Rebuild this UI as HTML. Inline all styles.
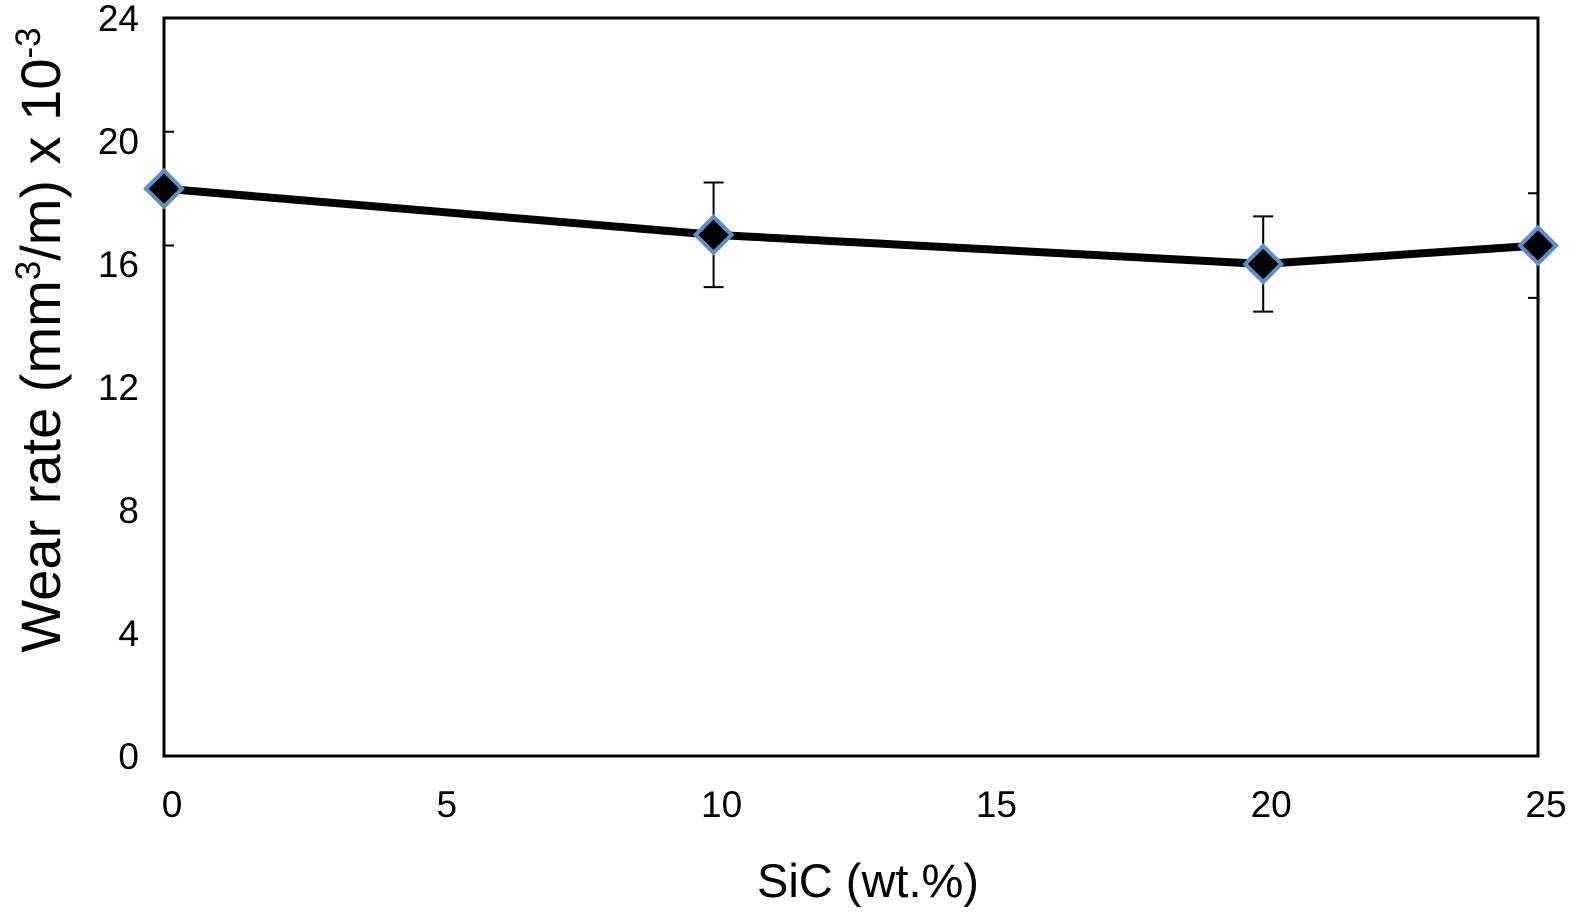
<!DOCTYPE html>
<html><head><meta charset="utf-8"><style>
body{margin:0;background:#fff;}
svg{display:block;font-family:"Liberation Sans",sans-serif;}
</style></head><body>
<svg id="chart" width="1593" height="919">
<defs><clipPath id="pc"><rect x="164" y="18" width="1374" height="738"/></clipPath></defs>
<g id="errs" clip-path="url(#pc)"></g>
<polyline id="line" fill="none" stroke="#000" stroke-width="8" stroke-linejoin="round"/>
<rect x="164" y="18" width="1374" height="738" fill="none" stroke="#000" stroke-width="3"/>
<g id="marks"></g>
<g id="yt" font-size="37" text-anchor="end"></g>
<g id="xt" font-size="37" text-anchor="middle"></g>
<text x="868" y="897" font-size="47" text-anchor="middle">SiC (wt.%)</text>
<text transform="translate(60,340) rotate(-90)" font-size="56" text-anchor="middle">Wear rate (mm<tspan font-size="35" dy="-20">3</tspan><tspan dy="20">/m) x 10</tspan><tspan font-size="35" dy="-20">-3</tspan></text>
</svg>
<script>
const xs=[0,10,20,25];
const ys=[18.45,16.95,16.0,16.6];
const errs=[1.85,1.7,1.55,1.7];
const yTicks=[0,4,8,12,16,20,24];
const xTicks=[0,5,10,15,20,25];
const X=v=>164+v*(1374/25), Y=v=>756-v*(738/24);
const NS='http://www.w3.org/2000/svg';
function mk(t,a,p){const e=document.createElementNS(NS,t);for(const k in a)e.setAttribute(k,a[k]);p.appendChild(e);return e;}
document.getElementById('line').setAttribute('points',xs.map((x,i)=>X(x)+','+Y(ys[i])).join(' '));
const eg=document.getElementById('errs'),mg=document.getElementById('marks');
xs.forEach((x,i)=>{
 const cx=X(x),t=Y(ys[i]+errs[i]),b=Y(ys[i]-errs[i]);
 const p=mk('path',{d:`M${cx},${t}V${b}M${cx-10},${t}H${cx+10}M${cx-10},${b}H${cx+10}`,stroke:'#000','stroke-width':2,fill:'none'},eg);
 
 
 const cy=Y(ys[i]);
 const d=mk('polygon',{points:`${cx},${cy-18} ${cx+18},${cy} ${cx},${cy+18} ${cx-18},${cy}`,fill:'#000',stroke:'#5b8fc9','stroke-width':4},mg);
 
 
});
const yt=document.getElementById('yt');
yTicks.forEach(v=>{const t=mk('text',{x:139,y:Y(v)+13},yt);t.textContent=v;
 
 });
const xt=document.getElementById('xt');
xTicks.forEach(v=>{const t=mk('text',{x:X(v)+8,y:817},xt);t.textContent=v;
 
 });
</script>
</body></html>
